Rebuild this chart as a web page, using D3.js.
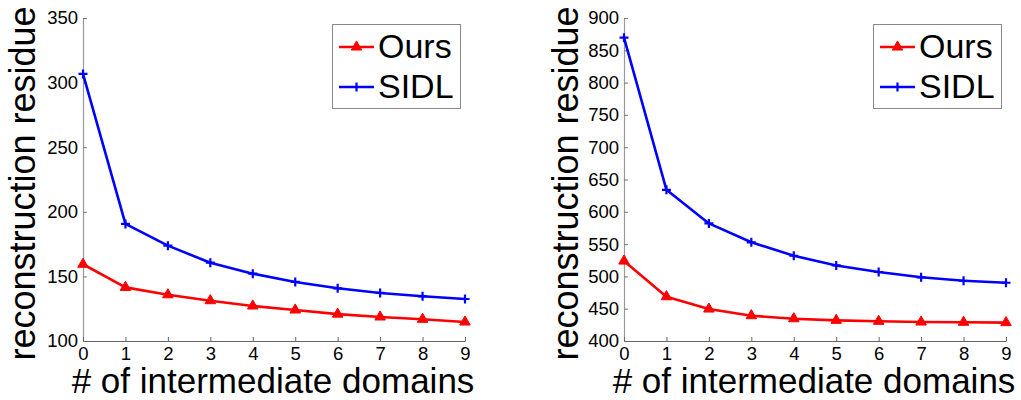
<!DOCTYPE html>
<html>
<head>
<meta charset="utf-8">
<script src="https://cdn.jsdelivr.net/npm/d3@7"></script>
<style>
  html, body { margin: 0; padding: 0; background: #fff; }
  svg { display: block; font-family: "Liberation Sans", Arial, sans-serif; }
</style>
</head>
<body>
<svg id="chart" width="1021" height="400"></svg>
<script>
// Number of intermediate domains (x axis)
const domains = [0, 1, 2, 3, 4, 5, 6, 7, 8, 9];

// Left panel: reconstruction residue
const oursLeft = [159.4, 141.5, 135.8, 131.2, 127.1, 124.0, 120.8, 118.6, 116.8, 114.7];
const sidlLeft = [306.7, 190.6, 173.8, 160.6, 152.1, 145.7, 140.8, 137.2, 134.6, 132.5];
const leftTicks = [100, 150, 200, 250, 300, 350];

// Right panel: reconstruction residue
const oursRight = [523.8, 468.6, 449.5, 439.2, 434.5, 432.0, 430.5, 429.4, 429.0, 428.5];
const sidlRight = [869.5, 634.0, 582.0, 552.8, 532.0, 517.0, 506.8, 498.6, 493.3, 490.2];
const rightTicks = [400, 450, 500, 550, 600, 650, 700, 750, 800, 850, 900];

const seriesNames = ["Ours", "SIDL"];
const seriesColors = ["#ff0000", "#0000ff"];

const svg = d3.select("#chart");

function drawPanel(opts) {
  const { left, right, top, bottom, yDomain, yTicks, ours, sidl, labelX, legendX } = opts;
  const g = svg.append("g");

  const x = d3.scaleLinear().domain([0, 9]).range([left, right]);
  const y = d3.scaleLinear().domain(yDomain).range([bottom, top]);

  // axes (MATLAB style: inward ticks, no box)
  const yAxis = g.append("g")
    .attr("transform", `translate(${left},0)`)
    .call(d3.axisLeft(y).tickValues(yTicks).tickSizeInner(-4).tickSizeOuter(0).tickPadding(5));
  yAxis.select(".domain").attr("stroke", "#9a9a9a").attr("stroke-width", 1.2);
  yAxis.selectAll(".tick line").attr("stroke", "#777");
  yAxis.selectAll("text").attr("font-size", 18.5).attr("fill", "#000")
    .attr("font-family", "Liberation Sans, Arial, sans-serif");

  const xAxis = g.append("g")
    .attr("transform", `translate(0,${bottom})`)
    .call(d3.axisBottom(x).tickValues(domains).tickFormat(d3.format("d")).tickSizeInner(-4).tickSizeOuter(0).tickPadding(6));
  xAxis.select(".domain").attr("stroke", "#666").attr("stroke-width", 1.2);
  xAxis.selectAll(".tick line").attr("stroke", "#666");
  xAxis.selectAll("text").attr("font-size", 18.5).attr("fill", "#000")
    .attr("font-family", "Liberation Sans, Arial, sans-serif");

  // axis titles
  g.append("text")
    .attr("transform", `translate(${labelX},${(top + bottom) / 2 + 4}) rotate(-90)`)
    .attr("text-anchor", "middle")
    .attr("font-size", 36)
    .text("reconstruction residue");

  g.append("text")
    .attr("x", (left + right) / 2 - 1)
    .attr("y", bottom + 52)
    .attr("text-anchor", "middle")
    .attr("font-size", 35)
    .text("# of intermediate domains");

  const line = d3.line()
    .x((d, i) => x(domains[i]))
    .y(d => y(d));

  const tri = d3.symbol().type(d3.symbolTriangle).size(48);

  // SIDL series (+ markers)
  g.append("path").datum(sidl)
    .attr("fill", "none").attr("stroke", seriesColors[1]).attr("stroke-width", 2.6)
    .attr("stroke-linejoin", "round").attr("d", line);
  g.selectAll(".sidl-mark").data(sidl).enter().append("path")
    .attr("class", "sidl-mark")
    .attr("transform", (d, i) => `translate(${x(domains[i])},${y(d)})`)
    .attr("d", "M-4.5,0H4.5M0,-4.5V4.5")
    .attr("stroke", seriesColors[1]).attr("stroke-width", 2.2);

  // Ours series (triangle markers)
  g.append("path").datum(ours)
    .attr("fill", "none").attr("stroke", seriesColors[0]).attr("stroke-width", 2.6)
    .attr("stroke-linejoin", "round").attr("d", line);
  g.selectAll(".ours-mark").data(ours).enter().append("path")
    .attr("class", "ours-mark")
    .attr("transform", (d, i) => `translate(${x(domains[i])},${y(d)})`)
    .attr("d", tri)
    .attr("fill", seriesColors[0]).attr("stroke", seriesColors[0]).attr("stroke-width", 1);

  // legend
  const lg = g.append("g").attr("transform", `translate(${legendX},24)`);
  lg.append("rect").attr("x", 0.5).attr("y", 0.5).attr("width", 128).attr("height", 84)
    .attr("fill", "#fff").attr("stroke", "#888").attr("stroke-width", 1);
  seriesNames.forEach((name, i) => {
    const cy = 23 + i * 40;
    lg.append("line").attr("x1", 7).attr("x2", 42).attr("y1", cy).attr("y2", cy)
      .attr("stroke", seriesColors[i]).attr("stroke-width", 2.6);
    if (i === 0) {
      lg.append("path").attr("transform", `translate(24.5,${cy})`).attr("d", tri)
        .attr("fill", seriesColors[i]).attr("stroke", seriesColors[i]);
    } else {
      lg.append("path").attr("transform", `translate(24.5,${cy})`)
        .attr("d", "M-4.5,0H4.5M0,-4.5V4.5")
        .attr("stroke", seriesColors[i]).attr("stroke-width", 2.2);
    }
    lg.append("text").attr("x", 46).attr("y", cy + 11).attr("font-size", 34).text(name);
  });
}

drawPanel({ left: 83, right: 465, top: 18, bottom: 341, yDomain: [100, 350], yTicks: leftTicks,
  ours: oursLeft, sidl: sidlLeft, labelX: 35, legendX: 332 });
drawPanel({ left: 624, right: 1006, top: 18, bottom: 341, yDomain: [400, 900], yTicks: rightTicks,
  ours: oursRight, sidl: sidlRight, labelX: 578, legendX: 873 });
</script>
</body>
</html>
